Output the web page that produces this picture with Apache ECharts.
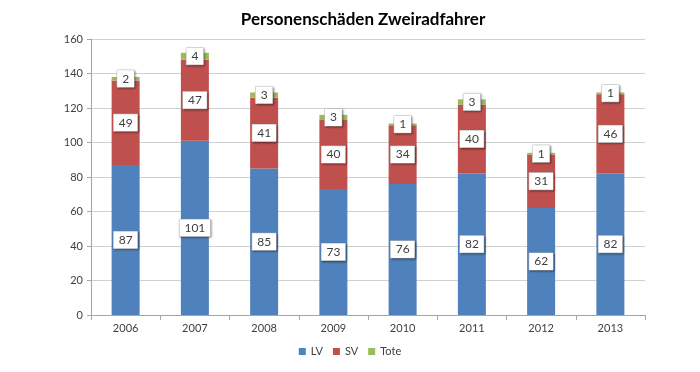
<!DOCTYPE html>
<html><head><meta charset="utf-8">
<script src="https://cdn.jsdelivr.net/npm/echarts@6/dist/echarts.min.js"></script>
<style>html,body{margin:0;padding:0;background:#fff}#c{width:700px;height:372px}</style>
</head><body><div id="c"></div>
<script>
const categories = ['2006','2007','2008','2009','2010','2011','2012','2013'];
const lv = [87,101,85,73,76,82,62,82];
const sv = [49,47,41,40,34,40,31,46];
const tote = [2,4,3,3,1,3,1,1];
const yTicks = {min:0, max:160, interval:20};

const F = 'Lato, sans-serif';
const chart = echarts.init(document.getElementById('c'));
const lbl = {
  show:true, position:'inside', color:'#404040', fontSize:12, fontFamily:F,
  backgroundColor:'#fff', borderColor:'#bfbfbf', borderWidth:0.5,
  padding:[3,5,2,5], shadowColor:'rgba(0,0,0,0.35)', shadowBlur:2, shadowOffsetX:1, shadowOffsetY:1
};
function s(name, data, color){
  return {name, type:'bar', stack:'a', data, barWidth:28, itemStyle:{color}, label:lbl};
}
chart.setOption({
  animation:false,
  title:{text:'Personenschäden Zweiradfahrer', left:358, top:6, textAlign:'center',
    textStyle:{fontSize:17, fontWeight:'bold', color:'#000', fontFamily:F}},
  grid:{left:91, right:55, top:39, bottom:57},
  legend:{bottom:10, left:'center', itemWidth:7, itemHeight:7, itemGap:10, icon:'rect',
    textStyle:{fontSize:11, color:'#404040', fontFamily:F}},
  xAxis:{type:'category', data:categories,
    axisLine:{lineStyle:{color:'#a6a6a6'}}, axisTick:{show:true, lineStyle:{color:'#a6a6a6'}},
    axisLabel:{fontSize:11, color:'#404040', margin:8, fontFamily:F}},
  yAxis:{type:'value', min:yTicks.min, max:yTicks.max, interval:yTicks.interval,
    axisLine:{show:true, lineStyle:{color:'#a6a6a6'}}, axisTick:{show:true, length:4, lineStyle:{color:'#a6a6a6'}},
    splitLine:{lineStyle:{color:'#d0d0d0'}},
    axisLabel:{fontSize:11, color:'#404040', margin:8, fontFamily:F}},
  series:[s('LV', lv, '#4f81bd'), s('SV', sv, '#c0504d'), s('Tote', tote, '#9bbb59')]
});
</script></body></html>
